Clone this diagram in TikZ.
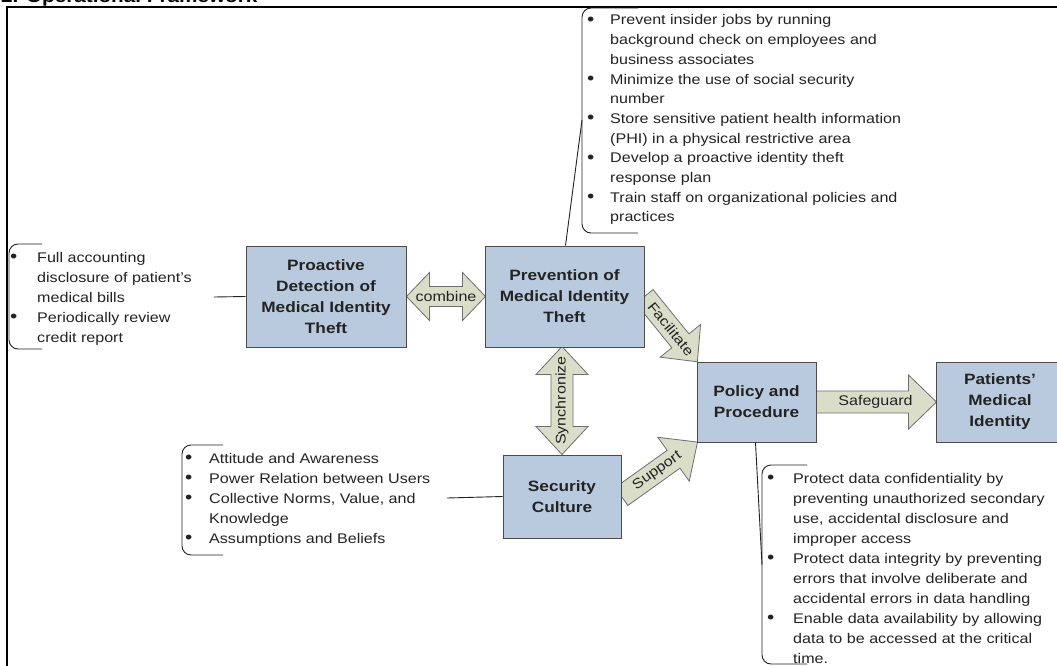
\documentclass[tikz,border=0pt]{standalone}
\usepackage{fontspec}
\setmainfont{Liberation Sans}[FakeStretch=1.15]
\usetikzlibrary{calc}
\definecolor{boxfill}{RGB}{185,202,223}
\definecolor{boxline}{RGB}{75,75,75}
\definecolor{arrfill}{RGB}{218,222,200}
\definecolor{arrline}{RGB}{110,110,110}
\definecolor{ink}{RGB}{35,35,35}
\newcommand{\listdot}{{\fontsize{18}{18}\selectfont\raisebox{-0.5pt}{\textbullet}}}
\begin{document}
\begin{tikzpicture}[x=1pt,y=-1pt,
  mbox/.style={draw=boxline, fill=boxfill, line width=1pt, inner sep=0pt, align=center,
    font=\fontsize{15}{21}\selectfont\bfseries, text=ink},
  flow/.style={draw=arrline, fill=arrfill, line width=0.8pt, line join=miter},
  flowlabel/.style={font=\fontsize{14}{16}\selectfont, text=ink, inner sep=0pt},
  bracket/.style={draw=ink, line width=0.9pt, rounded corners=9pt},
  link/.style={draw=ink, line width=0.9pt},
  listtext/.style={inner sep=0pt, anchor=north west, text=ink}]
\clip (0,0) rectangle (1057,666);
\fill[white] (0,0) rectangle (1057,666);

% title (cut off at the top edge) and frame
\node[anchor=base west, inner sep=0pt, font=\fontsize{18}{20}\selectfont\bfseries] (title) at (1,3) {2. Operational Framework};
\draw[line width=1.5pt] (7,670) -- (7,7) -- (1060,7);

% boxes (positions)
\path
  (326,296.5) node[mbox, minimum width=160pt, minimum height=101pt, draw=none, fill=none] (pro) {}
  (564.5,296.5) node[mbox, minimum width=159pt, minimum height=101pt, draw=none, fill=none] (prev) {}
  (756.5,402) node[mbox, minimum width=119pt, minimum height=80pt, draw=none, fill=none] (pol) {}
  (1000,402) node[mbox, minimum width=128pt, minimum height=80pt, draw=none, fill=none] (pat) {}
  (562,496.5) node[mbox, minimum width=118pt, minimum height=83pt, draw=none, fill=none] (sec) {};

% block arrows (drawn under the boxes)
\begin{scope}[shift={(pro.east)}]
  \draw[flow] (0,0) -- (23,-24) -- (23,-10) -- (56,-10) -- (56,-24) -- (79,0)
    -- (56,24) -- (56,10) -- (23,10) -- (23,24) -- cycle;
  \node[flowlabel] (combine) at (39.5,0) {combine};
\end{scope}
\begin{scope}[shift={(sec.north)}, rotate=90, transform shape]
  \draw[flow] (0,0) -- (28,-26) -- (28,-11) -- (80,-11) -- (80,-26) -- (108,0)
    -- (80,26) -- (80,11) -- (28,11) -- (28,26) -- cycle;
  \node[flowlabel] (sync) at (54,0) {Synchronize};
\end{scope}
\begin{scope}[shift={(prev.east)}, rotate=-51, transform shape]
  \draw[flow] (0,-11) -- (57,-11) -- (57,-26) -- (84,0) -- (57,26) -- (57,11) -- (0,11) -- cycle;
  \node[flowlabel] (facil) at (42,0) {Facilitate};
\end{scope}
\begin{scope}[shift={(sec.east)}, rotate=35.6, transform shape]
  \draw[flow] (0,-11) -- (64,-11) -- (64,-27) -- (93.5,0) -- (64,27) -- (64,11) -- (0,11) -- cycle;
  \node[flowlabel] (supp) at (44,0) {Support};
\end{scope}
\begin{scope}[shift={(pol.east)}]
  \draw[flow] (0,-11) -- (92,-11) -- (92,-27) -- (120,0) -- (92,27) -- (92,11) -- (0,11) -- cycle;
  \node[flowlabel] (safe) at (59,0) {Safeguard};
\end{scope}

% boxes drawn on top
\node[mbox, minimum width=160pt, minimum height=101pt] at (pro) {Proactive\\Detection of\\Medical Identity\\Theft};
\node[mbox, minimum width=159pt, minimum height=101pt] at (prev) {Prevention of\\Medical Identity\\Theft};
\node[mbox, minimum width=119pt, minimum height=80pt] at (pol) {Policy and\\Procedure};
\node[mbox, minimum width=128pt, minimum height=80pt] at (pat) {Patients’\\Medical\\Identity};
\node[mbox, minimum width=118pt, minimum height=83pt] at (sec) {Security\\Culture};

% left list
\coordinate (lfree) at (214,297);
\draw[link] (lfree) -- (pro.west);
\draw[bracket] (42,244) -- (9,244) -- (9,349) -- (42,349);
\node[listtext, font=\fontsize{14}{20}\selectfont] (llist) at (10,248) {%
\begin{tabular}{@{}p{27pt}@{}l@{}}
\listdot & Full accounting\\
 & disclosure of patient’s\\
 & medical bills\\
\listdot & Periodically review\\
 & credit report
\end{tabular}};

% top list
\coordinate (tfree) at (582,120);
\draw[link] ($(prev.north west)+(81,0)$) -- (tfree);
\draw[bracket] (638,8) -- (582,8) -- (582,233) -- (638,233);
\node[listtext, font=\fontsize{14}{19.7}\selectfont] (tlist) at (587,11) {%
\begin{tabular}{@{}p{23pt}@{}l@{}}
\listdot & Prevent insider jobs by running\\
 & background check on employees and\\
 & business associates\\
\listdot & Minimize the use of social security\\
 & number\\
\listdot & Store sensitive patient health information\\
 & (PHI) in a physical restrictive area\\
\listdot & Develop a proactive identity theft\\
 & response plan\\
\listdot & Train staff on organizational policies and\\
 & practices
\end{tabular}};

% bottom-left list
\coordinate (bfree) at (447,498);
\draw[link] (bfree) -- (sec.west);
\draw[bracket] (223,445) -- (182,445) -- (182,555) -- (223,555);
\node[listtext, font=\fontsize{14}{20}\selectfont] (blist) at (185,449) {%
\begin{tabular}{@{}p{24pt}@{}l@{}}
\listdot & Attitude and Awareness\\
\listdot & Power Relation between Users\\
\listdot & Collective Norms, Value, and\\
 & Knowledge\\
\listdot & Assumptions and Beliefs
\end{tabular}};

% bottom-right list
\coordinate (rfree) at (762,565);
\draw[link] ($(pol.south west)+(59,0)$) -- (rfree);
\draw[bracket] (807,465) -- (762,465) -- (762,664) -- (807,664);
\node[listtext, font=\fontsize{14}{20}\selectfont] (rlist) at (767,469) {%
\begin{tabular}{@{}p{26pt}@{}l@{}}
\listdot & Protect data confidentiality by\\
 & preventing unauthorized secondary\\
 & use, accidental disclosure and\\
 & improper access\\
\listdot & Protect data integrity by preventing\\
 & errors that involve deliberate and\\
 & accidental errors in data handling\\
\listdot & Enable data availability by allowing\\
 & data to be accessed at the critical\\
 & time.
\end{tabular}};
\end{tikzpicture}
\end{document}
